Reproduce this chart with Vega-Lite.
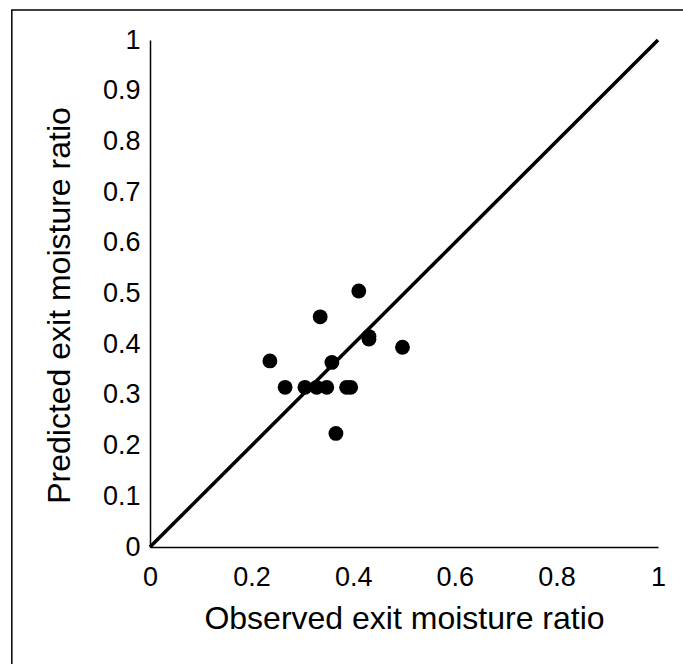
{
  "$schema": "https://vega.github.io/schema/vega-lite/v6.json",
  "width": 508,
  "height": 507,
  "autosize": "none",
  "padding": {"left": 150, "top": 40, "right": 25, "bottom": 117},
  "background": "white",
  "config": {
    "view": {"stroke": null},
    "font": "Liberation Sans",
    "axis": {
      "grid": false,
      "ticks": false,
      "domainColor": "black",
      "domainWidth": 1.5,
      "labelColor": "black",
      "labelFont": "Liberation Sans",
      "labelFontSize": 27,
      "labelFlush": false,
      "labelOverlap": false,
      "titleColor": "black",
      "titleFont": "Liberation Sans",
      "titleFontSize": 32,
      "titleFontWeight": "normal"
    }
  },
  "datasets": {
    "pts": [
      {"obs": 0.411, "pred": 0.505},
      {"obs": 0.335, "pred": 0.454},
      {"obs": 0.431, "pred": 0.415},
      {"obs": 0.431, "pred": 0.410},
      {"obs": 0.497, "pred": 0.394},
      {"obs": 0.236, "pred": 0.367},
      {"obs": 0.358, "pred": 0.364},
      {"obs": 0.266, "pred": 0.315},
      {"obs": 0.305, "pred": 0.315},
      {"obs": 0.328, "pred": 0.315},
      {"obs": 0.348, "pred": 0.315},
      {"obs": 0.387, "pred": 0.315},
      {"obs": 0.395, "pred": 0.315},
      {"obs": 0.366, "pred": 0.224}
    ],
    "line": [
      {"obs": 0, "pred": 0},
      {"obs": 1, "pred": 1}
    ]
  },
  "layer": [
    {
      "data": {"values": [{"a": 1}]},
      "mark": {"type": "rect", "fill": null, "stroke": "black", "strokeWidth": 1.5, "clip": false},
      "encoding": {
        "x": {"datum": -0.272, "type": "quantitative", "scale": {"domain": [0, 1]}},
        "x2": {"datum": 1.2},
        "y": {"datum": 1.059, "type": "quantitative", "scale": {"domain": [0, 1]}},
        "y2": {"datum": -0.3}
      }
    },
    {
      "data": {"name": "line"},
      "mark": {"type": "line", "color": "black", "strokeWidth": 3.5},
      "encoding": {
        "x": {"field": "obs", "type": "quantitative"},
        "y": {"field": "pred", "type": "quantitative"}
      }
    },
    {
      "data": {"name": "pts"},
      "mark": {"type": "circle", "color": "black", "opacity": 1, "size": 220},
      "encoding": {
        "x": {
          "field": "obs", "type": "quantitative",
          "scale": {"domain": [0, 1], "nice": false},
          "axis": {"title": "Observed exit moisture ratio", "values": [0, 0.2, 0.4, 0.6, 0.8, 1], "labelPadding": 17, "titlePadding": 13, "labelExpr": "datum.value == 0 ? '0' : datum.value == 1 ? '1' : format(datum.value, '.1f')"}
        },
        "y": {
          "field": "pred", "type": "quantitative",
          "scale": {"domain": [0, 1], "nice": false},
          "axis": {"title": "Predicted exit moisture ratio", "values": [0, 0.1, 0.2, 0.3, 0.4, 0.5, 0.6, 0.7, 0.8, 0.9, 1], "labelPadding": 10, "titlePadding": 26, "titleY": 265, "labelExpr": "datum.value == 0 ? '0' : datum.value == 1 ? '1' : format(datum.value, '.1f')"}
        }
      }
    }
  ]
}
